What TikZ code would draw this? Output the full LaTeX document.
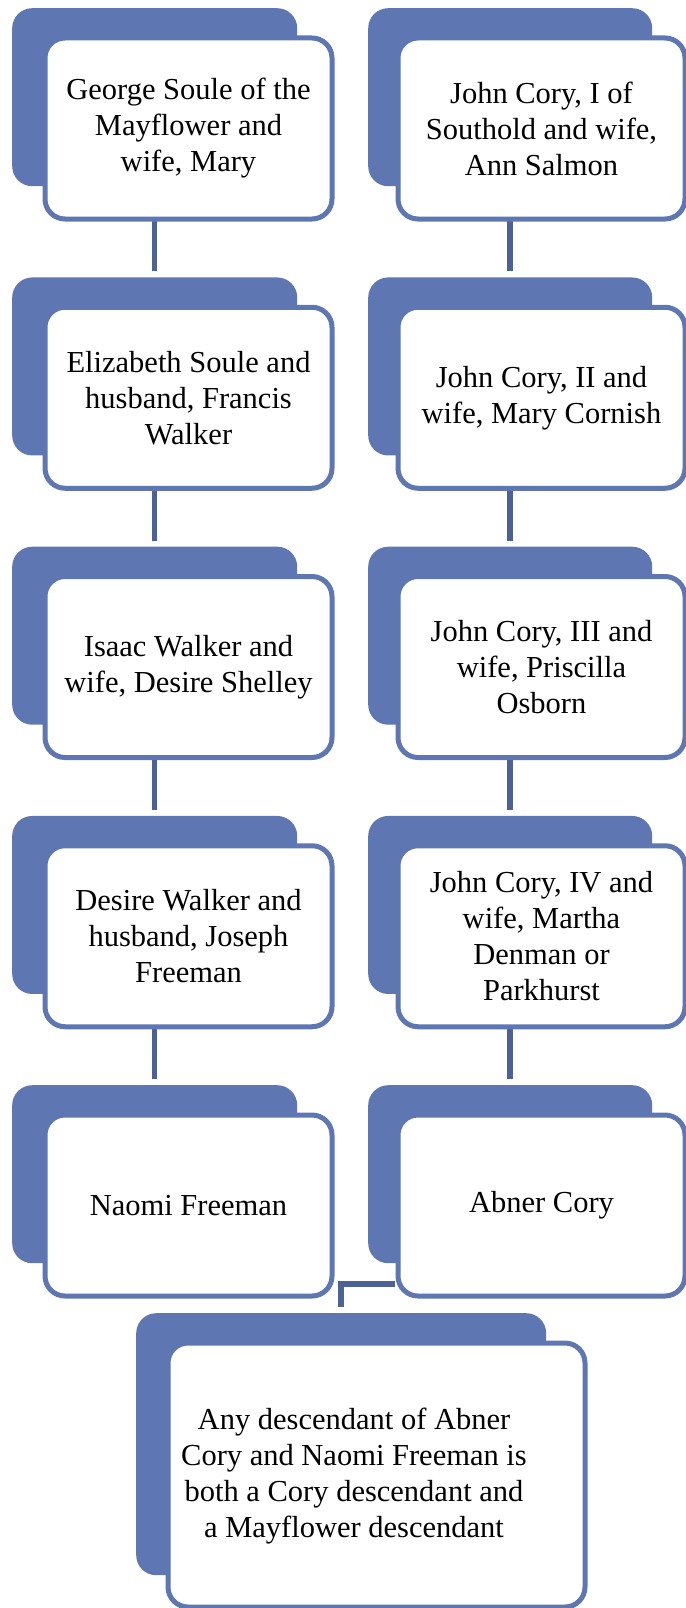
\documentclass[tikz,border=0pt]{standalone}
\usepackage{fontspec}
\setmainfont{Liberation Serif}
\definecolor{boxblue}{RGB}{94,118,178}
\definecolor{linkblue}{RGB}{76,97,150}
\begin{document}
\begin{tikzpicture}[x=1pt,y=-1pt,
  backbox/.style={fill=boxblue, draw=none, rounded corners=20pt, minimum width=285pt, minimum height=178pt, anchor=north west, inner sep=0pt},
  frontbox/.style={fill=white, draw=boxblue, line width=5pt, rounded corners=20pt, minimum width=287pt, minimum height=181pt, anchor=north west, inner sep=0pt, align=center, font=\fontsize{30.5}{36}\selectfont},
  link/.style={draw=linkblue, line width=5.5pt}]
\useasboundingbox (0,0) rectangle (685,1608);
% back boxes
\foreach \k [evaluate=\k as \yy using 8+269.25*\k] in {0,...,4}{
  \node[backbox] (bl\k) at (12,\yy) {};
  \node[backbox, minimum width=284pt] (br\k) at (368,\yy) {};
}
\node[backbox, minimum width=410pt, minimum height=262pt] (bb) at (136,1313) {};
% links
\foreach \k/\n in {0/1,1/2,2/3,3/4}{
  \draw[link] (bl\k.center) -- ([yshift=6pt]bl\n.north);
  \draw[link] (br\k.center) -- ([yshift=6pt]br\n.north);
}
\coordinate (elbow) at (341,1284);
\draw[link] ([yshift=6pt]bb.north) -- (bb.north |- elbow) -- (395,1284);
% front boxes
\node[frontbox] (fl0) at (42.5,35.5) {George Soule of the\\Mayflower and\\wife, Mary};
\node[frontbox] (fr0) at (395.5,35.5) {John Cory, I of\\Southold and wife,\\Ann Salmon};
\node[frontbox] (fl1) at (42.5,304.75) {Elizabeth Soule and\\husband, Francis\\Walker};
\node[frontbox] (fr1) at (395.5,304.75) {John Cory, II and\\wife, Mary Cornish};
\node[frontbox] (fl2) at (42.5,574) {Isaac Walker and\\wife, Desire Shelley};
\node[frontbox] (fr2) at (395.5,574) {John Cory, III and\\wife, Priscilla\\Osborn};
\node[frontbox] (fl3) at (42.5,843.25) {Desire Walker and\\husband, Joseph\\Freeman};
\node[frontbox] (fr3) at (395.5,843.25) {John Cory, IV and\\wife, Martha\\Denman or\\Parkhurst};
\node[frontbox] (fl4) at (42.5,1112.5) {Naomi Freeman};
\node[frontbox] (fr4) at (395.5,1112.5) {Abner Cory};
\node[frontbox, minimum width=417pt, minimum height=264pt] (fb) at (165.5,1340.5) {};
\node[font=\fontsize{30.5}{36}\selectfont, align=center, anchor=center] (fbt) at (354,1476) {Any descendant of Abner\\Cory and Naomi Freeman is\\both a Cory descendant and\\a Mayflower descendant};
\end{tikzpicture}
\end{document}
